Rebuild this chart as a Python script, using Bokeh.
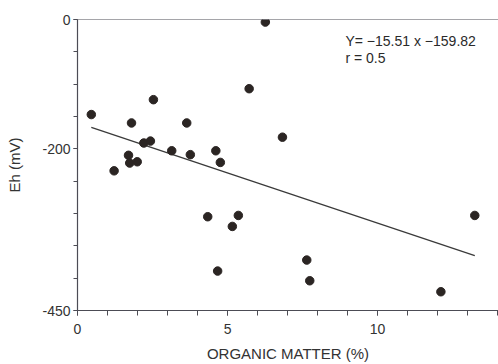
from bokeh.plotting import figure
from bokeh.models import FixedTicker, Range1d, Label, Span
from bokeh.embed import file_html
from bokeh.resources import INLINE

# data
organic_matter = [0.46, 2.53, 1.80, 3.64, 5.72, 6.26, 6.83, 1.22, 1.70, 1.74,
                  1.99, 2.21, 2.43, 3.14, 3.76, 4.61, 4.76, 4.34, 5.36, 5.16,
                  4.67, 7.64, 7.74, 12.11, 13.24]
eh = [-147, -124, -160, -160, -107, -4, -182, -234, -210, -222,
      -220, -191, -188, -203, -209, -203, -221, -305, -303, -320,
      -389, -372, -404, -421, -303]
slope = -15.51
intercept = -159.82
r_value = 0.5
x_ticks = [0, 5, 10]
x_tick_labels = {0: "0", 5: "5", 10: "10"}
y_ticks = [0, -200, -450]
y_tick_labels = {0: "0", -200: "-200", -450: "-450"}

FONT = "Liberation Sans"
INK = "#2b2523"
AX = "#4c4c55"

p = figure(width=498, height=364, x_range=Range1d(0, 14.03), y_range=Range1d(-450, 0),
           output_backend="svg", toolbar_location=None,
           min_border_left=77, min_border_right=0, min_border_top=19, min_border_bottom=54,
           background_fill_color="white", border_fill_color="white",
           outline_line_color=None)
p.grid.visible = False

# regression line
line_x = [min(organic_matter), max(organic_matter)]
line_y = [slope * v + intercept for v in line_x]
p.line(line_x, line_y, line_color="#3a3a3a", line_width=1.3)

p.scatter(organic_matter, eh, size=8.5, fill_color=INK, line_color=INK)

# top border line
p.add_layout(Span(location=0, dimension="width", line_color=AX, line_width=1.2))

xa = p.xaxis[0]
xa.ticker = FixedTicker(ticks=x_ticks, minor_ticks=list(range(0, 15)))
xa.major_label_overrides = x_tick_labels
xa.axis_label = "ORGANIC MATTER (%)"
ya = p.yaxis[0]
ya.ticker = FixedTicker(ticks=y_ticks, minor_ticks=[-50 * i for i in range(10)])
ya.major_label_overrides = y_tick_labels
ya.axis_label = "Eh (mV)"

for ax in (xa, ya):
    ax.axis_line_color = AX
    ax.axis_line_width = 1.2
    ax.major_tick_line_color = AX
    ax.minor_tick_line_color = AX
    ax.major_tick_in = 0
    ax.minor_tick_in = 0
    ax.major_tick_out = 5
    ax.minor_tick_out = 5
    ax.major_label_text_font = FONT
    ax.major_label_text_font_size = "14px"
    ax.major_label_text_color = "#333333"
    ax.axis_label_text_font = FONT
    ax.axis_label_text_font_size = "15px"
    ax.axis_label_text_font_style = "normal"
    ax.axis_label_text_color = "#333333"

xa.major_label_standoff = 8
xa.axis_label_standoff = 8
ya.major_label_standoff = 3
ya.axis_label_standoff = 16
ya.major_tick_out = 4
ya.minor_tick_out = 4

p.add_layout(Label(x=8.93, y=-33, text="Y= −15.51 x −159.82", text_font=FONT,
                   text_font_size="14px", text_color="#2a2a2a", text_baseline="middle"))
p.add_layout(Label(x=8.93, y=-60, text="r =  0.5", text_font=FONT,
                   text_font_size="14px", text_color="#2a2a2a", text_baseline="middle"))

open("out.html", "w").write(file_html(p, INLINE))
